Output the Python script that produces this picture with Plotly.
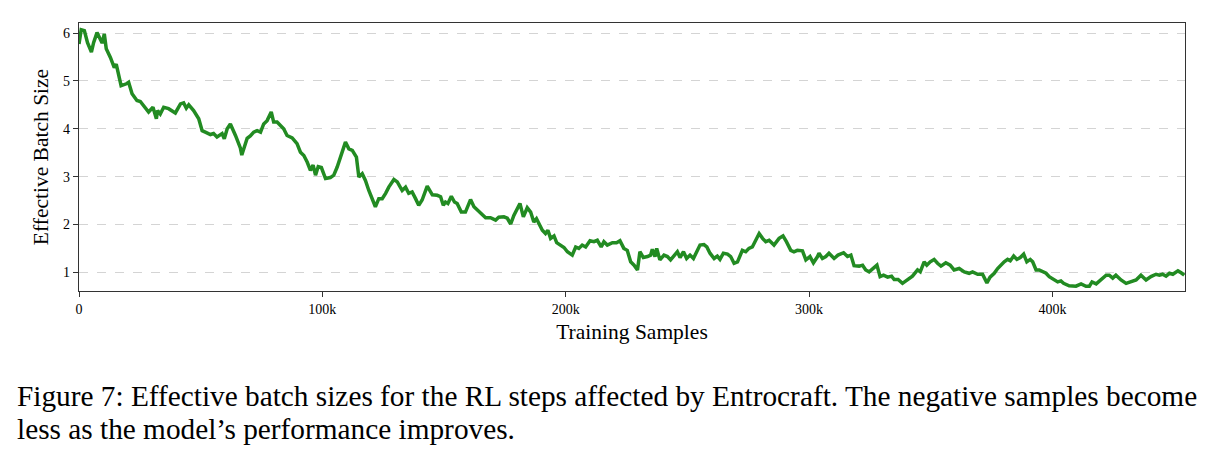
import plotly.graph_objects as go

# Training samples (in thousands) and effective batch size
samples_k = [0.0, 0.9, 2.2, 3.5, 5.1, 6.0, 7.4, 8.8, 9.5, 10.4, 11.2, 12.9, 14.5, 15.3, 16.3, 17.3,
             19.5, 20.4, 21.8, 23.8, 25.2, 26.6, 28.6, 30.4, 31.8, 32.3, 33.4, 34.8, 36.8, 39.6,
             41.7, 43.0, 44.1, 45.1, 47.1, 49.2, 50.6, 51.9, 54.0, 55.3, 56.7, 58.8, 59.7, 60.9,
             62.2, 64.3, 66.3, 66.9, 69.1, 70.4, 71.8, 73.2, 74.6, 75.9, 77.3, 79.0, 80.0, 81.4,
             82.8, 84.1, 85.5, 87.6, 89.6, 91.0, 92.4, 93.8, 95.1, 96.2, 97.2, 98.3, 99.6, 101.3,
             103.3, 104.7, 106.1, 107.4, 109.5, 110.9, 112.3, 114.0, 115.0, 116.4, 117.7, 119.1,
             120.5, 121.8, 123.2, 124.6, 126.0, 127.3, 129.4, 130.8, 132.8, 134.2, 135.5, 136.9,
             138.3, 139.6, 141.0, 143.1, 145.2, 147.2, 148.6, 149.7, 150.6, 151.6, 153.0, 154.3,
             155.4, 157.1, 158.8, 160.9, 162.3, 163.7, 165.0, 167.1, 169.1, 171.2, 172.5, 174.6,
             176.0, 177.4, 178.7, 180.1, 181.2, 182.6, 184.2, 185.6, 186.9, 188.0, 189.0, 190.4,
             191.7, 192.7, 193.8, 195.2, 196.3, 197.9, 199.3, 200.7, 202.7, 204.1, 205.4, 206.8,
             208.2, 210.0, 211.6, 213.0, 214.6, 215.7, 217.1, 219.2, 220.9, 222.3, 223.9, 225.3,
             226.7, 228.1, 229.5, 230.5, 231.9, 233.6, 234.9, 235.6, 236.7, 237.4, 238.7, 240.4,
             241.8, 243.1, 244.5, 245.9, 247.0, 248.4, 249.7, 251.1, 252.5, 253.8, 255.2, 256.8,
             258.0, 259.3, 261.0, 262.3, 263.4, 264.8, 266.5, 267.8, 269.2, 270.6, 271.6, 272.6,
             274.0, 275.3, 276.7, 278.1, 279.5, 280.9, 282.2, 283.6, 285.6, 287.7, 289.3, 290.7,
             292.5, 293.8, 295.2, 297.3, 298.7, 300.4, 301.8, 303.5, 304.1, 305.5, 306.9, 308.2,
             310.3, 311.9, 314.2, 315.8, 317.2, 318.5, 320.6, 322.0, 323.3, 324.7, 326.1, 327.9,
             329.2, 330.6, 332.3, 333.9, 335.0, 336.6, 338.4, 340.5, 342.5, 344.6, 345.7, 347.3,
             348.4, 349.8, 351.4, 352.8, 354.2, 356.2, 358.0, 359.6, 361.7, 363.8, 365.8, 367.2,
             369.3, 371.3, 373.1, 374.4, 376.1, 377.5, 378.8, 380.2, 381.6, 382.7, 384.1, 385.4,
             386.8, 388.2, 389.5, 390.9, 391.9, 393.3, 394.6, 396.0, 397.4, 398.7, 400.8, 402.2,
             403.5, 404.6, 406.9, 409.7, 411.8, 413.8, 415.2, 416.3, 418.0, 420.0, 422.1, 423.4,
             424.8, 426.1, 428.2, 430.3, 432.3, 434.4, 436.4, 438.5, 440.5, 442.6, 444.0, 445.3,
             446.7, 448.1, 449.5, 451.6, 452.9, 454.2]

batch_size = [5.77, 6.07, 6.05, 5.80, 5.60, 5.80, 6.01, 5.84, 5.79, 5.98, 5.67, 5.49, 5.28, 5.35, 5.15, 4.90,
              4.94, 4.97, 4.73, 4.59, 4.57, 4.49, 4.35, 4.45, 4.21, 4.38, 4.31, 4.45, 4.42, 4.33,
              4.52, 4.54, 4.43, 4.50, 4.38, 4.21, 3.96, 3.93, 3.88, 3.90, 3.83, 3.90, 3.79, 4.00,
              4.10, 3.86, 3.60, 3.45, 3.80, 3.85, 3.93, 3.96, 3.93, 4.10, 4.17, 4.35, 4.14, 4.14,
              4.07, 4.00, 3.86, 3.81, 3.69, 3.51, 3.44, 3.30, 3.13, 3.24, 3.03, 3.21, 3.19, 2.96,
              2.98, 3.03, 3.20, 3.41, 3.72, 3.58, 3.55, 3.41, 2.99, 3.06, 2.92, 2.71,
              2.54, 2.37, 2.54, 2.54, 2.65, 2.78, 2.94, 2.89, 2.71, 2.78, 2.65, 2.68,
              2.54, 2.40, 2.51, 2.80, 2.62, 2.61, 2.58, 2.40, 2.47, 2.44, 2.59, 2.47,
              2.44, 2.26, 2.26, 2.52, 2.37, 2.30, 2.23, 2.14, 2.14, 2.09, 2.15, 2.16,
              2.13, 2.01, 2.19, 2.33, 2.44, 2.16, 2.35, 2.26, 2.05, 2.12, 2.01, 1.88,
              1.81, 1.88, 1.71, 1.76, 1.62, 1.57, 1.52, 1.43, 1.36, 1.53, 1.50, 1.57,
              1.53, 1.66, 1.64, 1.67, 1.53, 1.64, 1.57, 1.62, 1.62, 1.66, 1.50, 1.46,
              1.22, 1.15, 1.05, 1.43, 1.31, 1.33, 1.36, 1.48, 1.33, 1.50, 1.26, 1.36,
              1.33, 1.26, 1.36, 1.43, 1.31, 1.43, 1.29, 1.36, 1.29, 1.43, 1.57, 1.58,
              1.53, 1.40, 1.29, 1.34, 1.27, 1.40, 1.38, 1.33, 1.19, 1.22, 1.33, 1.46,
              1.43, 1.50, 1.53, 1.67, 1.81, 1.71, 1.64, 1.67, 1.57, 1.71, 1.76, 1.64,
              1.46, 1.43, 1.46, 1.45, 1.26, 1.33, 1.20, 1.33, 1.40, 1.29, 1.33, 1.40,
              1.29, 1.36, 1.41, 1.33, 1.36, 1.14, 1.13, 1.15, 1.05, 1.01, 1.08, 1.15,
              0.91, 0.94, 0.90, 0.92, 0.85, 0.85, 0.77, 0.84, 0.92, 1.05, 1.01, 1.22,
              1.15, 1.22, 1.27, 1.19, 1.13, 1.20, 1.15, 1.05, 1.08, 1.01, 0.98, 1.01,
              0.96, 0.96, 0.78, 0.90, 0.98, 1.08, 1.15, 1.22, 1.27, 1.24, 1.34, 1.27,
              1.31, 1.38, 1.22, 1.27, 1.22, 1.05, 1.05, 1.01, 0.98, 0.91, 0.84, 0.80,
              0.82, 0.77, 0.72, 0.71, 0.76, 0.71, 0.71, 0.80, 0.76, 0.84, 0.94, 0.94,
              0.88, 0.94, 0.84, 0.77, 0.80, 0.84, 0.94, 0.84, 0.91, 0.96, 0.94, 0.96,
              0.92, 0.98, 0.96, 1.03, 0.99, 0.94]

x_tick_vals = [0, 100000, 200000, 300000, 400000]
x_tick_text = ["0", "100k", "200k", "300k", "400k"]
y_tick_vals = [1, 2, 3, 4, 5, 6]

x_title = "Training Samples"
y_title = "Effective Batch Size"
caption_line1 = "Figure 7: Effective batch sizes for the RL steps affected by Entrocraft. The negative samples become"
caption_line2 = "less as the model\u2019s performance improves."

samples = [v * 1000 for v in samples_k]

SERIF = "Liberation Serif, Times New Roman, serif"

fig = go.Figure()
fig.add_trace(go.Scatter(
    x=samples, y=batch_size, mode="lines",
    line=dict(color="#228B22", width=3.5, shape="linear"),
    showlegend=False, hoverinfo="skip",
))

axis_common = dict(
    showline=True, mirror=True, linecolor="#333333", linewidth=1.3,
    ticks="outside", ticklen=5, tickwidth=1, tickcolor="#333333",
    tickfont=dict(family=SERIF, size=14, color="black"),
    zeroline=False,
)

fig.update_xaxes(
    range=[0, 454500], tickvals=x_tick_vals, ticktext=x_tick_text,
    showgrid=False,
    title=dict(text=x_title, font=dict(family=SERIF, size=21.5, color="black"), standoff=7),
    **axis_common,
)
fig.update_yaxes(
    range=[0.61, 6.21], tickvals=y_tick_vals,
    showgrid=True, gridcolor="#d4d4d4", gridwidth=1, griddash="dash",
    title=dict(text=y_title, font=dict(family=SERIF, size=21.5, color="black"), standoff=8),
    **axis_common,
)

plot_h = 291 - 22.7
fig.add_annotation(
    text=caption_line1, xref="paper", yref="paper",
    x=(15 - 78.7) / (1185 - 78.7), y=(291 - 396) / plot_h,
    xanchor="left", yanchor="middle", showarrow=False,
    font=dict(family=SERIF, size=29.3, color="black"),
)
fig.add_annotation(
    text=caption_line2, xref="paper", yref="paper",
    x=(15 - 78.7) / (1185 - 78.7), y=(291 - 429) / plot_h,
    xanchor="left", yanchor="middle", showarrow=False,
    font=dict(family=SERIF, size=29.3, color="black"),
)

fig.update_layout(
    width=1219, height=464,
    margin=dict(l=78.7, r=1219 - 1185, t=22.7, b=464 - 291),
    paper_bgcolor="white", plot_bgcolor="white",
)

fig.write_html("out.html")
